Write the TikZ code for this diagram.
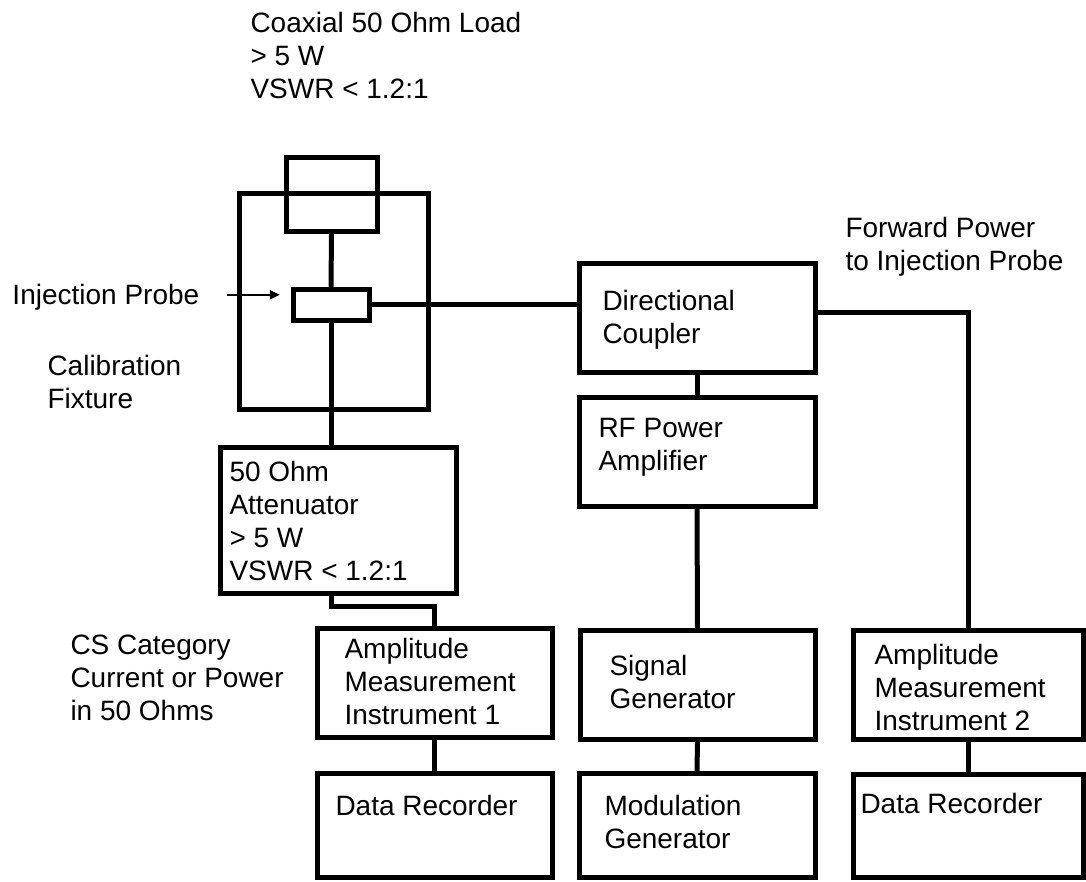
\documentclass[tikz,border=0pt]{standalone}
\usepackage{fontspec}
\setmainfont{Liberation Sans}
\usepackage{tikz}
\usetikzlibrary{arrows.meta}

\begin{document}
\begin{tikzpicture}[x=1pt, y=-1pt, line width=5pt,
    unit/.style={draw, line width=5pt, inner sep=0pt, outer sep=0pt},
    txt/.style={anchor=base west, align=left, inner sep=0pt, font=\fontsize{28}{33}\selectfont}]
    \useasboundingbox (0,0) rectangle (1086,881);
    % fixture side
    \node[unit, minimum width=189pt, minimum height=216pt] (fixture) at (333.5,301) {};
    \node[unit, minimum width=91pt, minimum height=74pt] (load) at (331.5,194) {};
    \node[unit, minimum width=76pt, minimum height=31pt] (probe) at (331,304.5) {};
    \node[unit, minimum width=236pt, minimum height=146pt] (atten) at (338,520) {};
    % power chain
    \node[unit, minimum width=236pt, minimum height=109pt] (coupler) at (697,317.5) {};
    \node[unit, minimum width=236pt, minimum height=109pt] (amp) at (697,451.5) {};
    \node[unit, minimum width=235pt, minimum height=109pt] (siggen) at (697.5,684.5) {};
    \node[unit, minimum width=236pt, minimum height=104pt] (modgen) at (697,825) {};
    % measurement
    \node[unit, minimum width=235pt, minimum height=109pt] (ami1) at (434.5,682.5) {};
    \node[unit, minimum width=235pt, minimum height=104pt] (rec1) at (434.5,825) {};
    \node[unit, minimum width=230pt, minimum height=109pt] (ami2) at (968,684.5) {};
    \node[unit, minimum width=230pt, minimum height=103pt] (rec2) at (968,825.5) {};
    % texts (placed at the baseline of the last line)
    \node[txt] (loadlbl) at (248,98) {Coaxial 50 Ohm Load\\> 5 W\\VSWR < 1.2:1};
    \node[txt] (injlbl) at (10,304) {Injection Probe};
    \node[txt] (fixlbl) at (45,408) {Calibration\\Fixture};
    \node[txt] (cslbl) at (68,720) {CS Category\\Current or Power\\in 50 Ohms};
    \node[txt] (fwdlbl) at (843,270) {Forward Power\\to Injection Probe};
    \node[txt] (attent) at (227,580) {50 Ohm\\Attenuator\\> 5 W\\VSWR < 1.2:1};
    \node[txt] (couplert) at (600,343) {Directional\\Coupler};
    \node[txt] (ampt) at (596,470) {RF Power\\Amplifier};
    \node[txt] (siggent) at (607,708) {Signal\\Generator};
    \node[txt] (modgent) at (602,848) {Modulation\\Generator};
    \node[txt] (ami1t) at (342,724) {Amplitude\\Measurement\\Instrument 1};
    \node[txt] (rec1t) at (333,815) {Data Recorder};
    \node[txt] (ami2t) at (872,730) {Amplitude\\Measurement\\Instrument 2};
    \node[txt] (rec2t) at (858,813) {Data Recorder};
    % connections
    \draw (load.south) -- (probe.north);
    \draw (probe.south) -- (probe.south |- atten.north);
    \draw (probe.east) -- (probe.east -| coupler.west);
    \draw ([yshift=5.5pt]coupler.east) -| (ami2.north);
    \draw (coupler.south) -- (amp.north);
    \draw (amp.south) -- (siggen.north);
    \draw (siggen.south) -- (modgen.north);
    \draw (probe.south |- atten.south) -- ++(0,13) -| (ami1.north);
    \draw (ami1.south) -- (rec1.north);
    \draw (ami2.south) -- (rec2.north);
    \draw[line width=1.8pt, -{Triangle[length=10pt, width=9pt]}] ([xshift=25pt, yshift=2pt]injlbl.east) -- ++(53,0);
\end{tikzpicture}
\end{document}
